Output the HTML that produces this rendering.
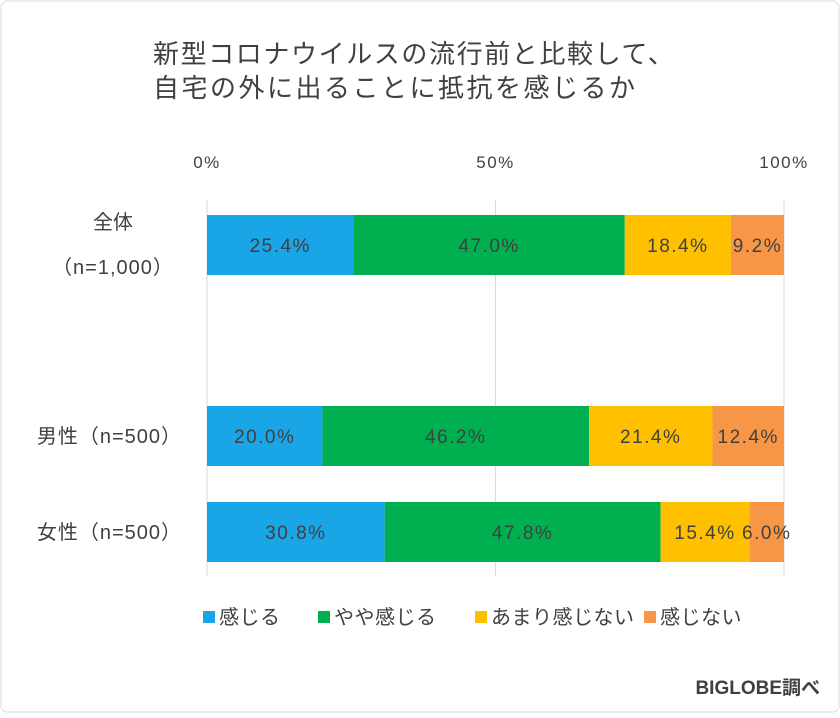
<!DOCTYPE html>
<html><head><meta charset="utf-8"><style>
body{margin:0;background:#fff;}
svg text{font-family:"Liberation Sans","Noto Sans CJK JP",sans-serif;fill:#404040;}
</style></head><body>
<svg id="chart" width="840" height="713">
<rect x="1" y="1" width="838" height="711" rx="6" fill="#fff" stroke="#d9d9d9"/>
<text x="153" y="63" font-size="26" letter-spacing="1.6">新型コロナウイルスの流行前と比較して、</text>
<text x="153" y="97" font-size="26" letter-spacing="2.5">自宅の外に出ることに抵抗を感じるか</text>
<g id="axis"></g>
<g id="bars"></g>
<g id="legend"></g>
<text x="820" y="694" font-size="19" font-weight="bold" text-anchor="end" fill="#222">BIGLOBE調べ</text>
</svg>
<script>
const categories=["全体","男性（n=500）","女性（n=500）"];
const seriesNames=["感じる","やや感じる","あまり感じない","感じない"];
const s1=[25.4,20.0,30.8];
const s2=[47.0,46.2,47.8];
const s3=[18.4,21.4,15.4];
const s4=[9.2,12.4,6.0];
const ticks=[0,50,100];
const colors=["#1aa5e6","#00b050","#ffc000","#f79646"];
const NS="http://www.w3.org/2000/svg";
const x0=207,x1=784;
const xs=v=>x0+(x1-x0)*v/100;
const rowY=[215,406,502],barH=60;
function mk(t,a,p){const e=document.createElementNS(NS,t);for(const k in a)e.setAttribute(k,a[k]);p.appendChild(e);return e;}
const ax=document.getElementById('axis');
ticks.forEach(t=>{
 const l=mk('line',{x1:xs(t),x2:xs(t),y1:200,y2:576,stroke:'#d9d9d9'},ax);
 
 
 const tx=mk('text',{x:xs(t),y:168,'font-size':17,'letter-spacing':1.5,'text-anchor':'middle'},ax);
 tx.textContent=t+'%';
 
 
});
const bg=document.getElementById('bars');
const series=[s1,s2,s3,s4];
categories.forEach((c,i)=>{
 let acc=0;
 series.forEach((s,j)=>{
  const v=s[i];
  const r=mk('rect',{x:xs(acc),y:rowY[i],width:xs(acc+v)-xs(acc),height:barH,fill:colors[j]},bg);
  
  
  const t=mk('text',{x:(xs(acc)+xs(acc+v))/2,y:rowY[i]+barH/2+7,'font-size':19,'letter-spacing':1.5,'text-anchor':'middle'},bg);
  t.setAttribute('fill','#333');
  t.textContent=v.toFixed(1)+'%';
  
  
  acc+=v;
 });
 if(i===0){
  const a=mk('text',{x:113,y:rowY[i]+14,'font-size':20,'text-anchor':'middle'},bg);a.textContent=c;
  
  
  const b=mk('text',{x:113,y:rowY[i]+59,'font-size':20,'letter-spacing':1,'text-anchor':'middle'},bg);b.textContent='（n=1,000）';
  
  
 }else{
  const a=mk('text',{x:182,y:rowY[i]+barH/2+7,'font-size':20,'letter-spacing':1,'text-anchor':'end'},bg);a.textContent=c;
  
  
 }
});
const lg=document.getElementById('legend');
const lx=[203,318,475,644];
seriesNames.forEach((n,j)=>{
 const r=mk('rect',{x:lx[j],y:611,width:12,height:12,fill:colors[j]},lg);
 
 
 const t=mk('text',{x:lx[j]+16,y:624,'font-size':20,'letter-spacing':0.5},lg);t.textContent=n;
 
 
});
</script>
</body></html>
